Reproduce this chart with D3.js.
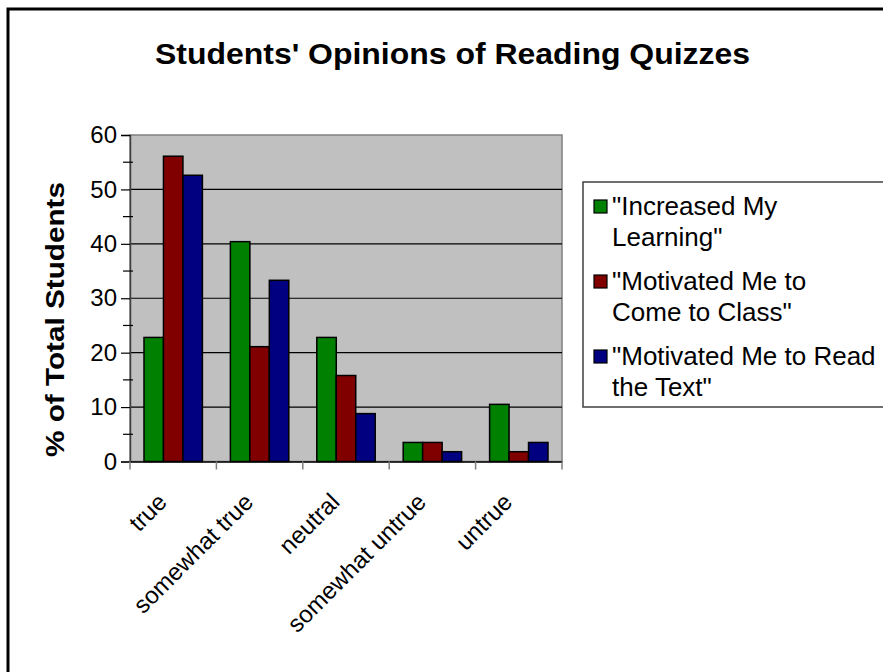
<!DOCTYPE html>
<html>
<head>
<meta charset="utf-8">
<script src="https://cdn.jsdelivr.net/npm/d3@7"></script>
<style>
  html, body { margin: 0; padding: 0; background: #fff; }
  svg { display: block; }
  text { font-family: Arial, "Liberation Sans", sans-serif; }
</style>
</head>
<body>
<svg id="chart" width="883" height="672"></svg>
<script>
const title = "Students' Opinions of Reading Quizzes";
const yTitle = "% of Total Students";
const categories = ["true", "somewhat true", "neutral", "somewhat untrue", "untrue"];
const seriesNames = ["\"Increased My Learning\"", "\"Motivated Me to Come to Class\"", "\"Motivated Me to Read the Text\""];
const legendLines = [["\"Increased My", "Learning\""], ["\"Motivated Me to", "Come to Class\""], ["\"Motivated Me to Read", "the Text\""]];
const increasedLearning = [22.8, 40.4, 22.8, 3.5, 10.5];
const cameToClass = [56.1, 21.1, 15.8, 3.5, 1.8];
const readText = [52.6, 33.3, 8.8, 1.8, 3.5];
const seriesValues = [increasedLearning, cameToClass, readText];
const seriesColors = ["#008000", "#800000", "#000080"];
const yTicks = [0, 10, 20, 30, 40, 50, 60];
const yMinorTicks = [5, 15, 25, 35, 45, 55];

const svg = d3.select("#chart");

// outer frame
svg.append("rect").attr("x", 8).attr("y", 9).attr("width", 900).attr("height", 700)
  .attr("fill", "#fff").attr("stroke", "#000").attr("stroke-width", 3);

const plot = { left: 130, right: 562, top: 135, bottom: 461.5 };

const x = d3.scaleBand().domain(categories).range([plot.left, plot.right])
  .paddingInner(0.324).paddingOuter(0.162);
const xFull = d3.scaleBand().domain(categories).range([plot.left, plot.right]);
const xSub = d3.scaleBand().domain(d3.range(seriesValues.length)).range([0, x.bandwidth()]);
const y = d3.scaleLinear().domain([0, 60]).range([plot.bottom, plot.top]);

// plot background
svg.append("rect").attr("x", plot.left).attr("y", plot.top)
  .attr("width", plot.right - plot.left).attr("height", plot.bottom - plot.top)
  .attr("fill", "#C0C0C0").attr("stroke", "#808080").attr("stroke-width", 1.5);

// gridlines
svg.append("g").selectAll("line").data(yTicks.filter(d => d > 0 && d < 60)).join("line")
  .attr("x1", plot.left).attr("x2", plot.right)
  .attr("y1", d => y(d)).attr("y2", d => y(d))
  .attr("stroke", "#000").attr("stroke-width", 1.2);

// bars
const groups = svg.append("g").selectAll("g").data(categories).join("g")
  .attr("transform", c => `translate(${x(c)},0)`);
groups.selectAll("rect").data((c, i) => seriesValues.map((s, k) => ({ k, v: s[i] }))).join("rect")
  .attr("x", d => xSub(d.k)).attr("width", xSub.bandwidth())
  .attr("y", d => y(d.v)).attr("height", d => y(0) - y(d.v))
  .attr("fill", d => seriesColors[d.k]).attr("stroke", "#000").attr("stroke-width", 1.5);

// y axis
const yAxis = d3.axisLeft(y).tickValues(yTicks).tickSize(9).tickPadding(4).tickFormat(d3.format("d"));
const gy = svg.append("g").attr("transform", `translate(${plot.left},0)`).call(yAxis);
gy.select(".domain").attr("stroke", "#404040").attr("stroke-width", 1.5);
gy.selectAll(".tick line").attr("stroke", "#000").attr("stroke-width", 1.2);
gy.selectAll(".tick text").attr("font-size", 24).attr("fill", "#000")
  .style("font-family", "Arial, 'Liberation Sans', sans-serif");
svg.append("g").selectAll("line").data(yMinorTicks).join("line")
  .attr("x1", plot.left - 7).attr("x2", plot.left + 3)
  .attr("y1", d => y(d)).attr("y2", d => y(d))
  .attr("stroke", "#000").attr("stroke-width", 1.2);

// x axis
const xAxis = d3.axisBottom(xFull).tickSize(0).tickFormat("");
const gx = svg.append("g").attr("transform", `translate(0,${plot.bottom})`).call(xAxis);
gx.select(".domain").attr("stroke", "#000").attr("stroke-width", 1.5);
const boundaries = categories.map(c => xFull(c)).concat([plot.right]);
gx.selectAll(".bt").data(boundaries).join("line").attr("class", "bt")
  .attr("x1", d => d).attr("x2", d => d).attr("y1", 0).attr("y2", 8)
  .attr("stroke", "#808080").attr("stroke-width", 1.5);
svg.append("g").selectAll("text").data(categories).join("text")
  .attr("transform", c => `translate(${xFull(c) + xFull.bandwidth() / 2 - 5},${plot.bottom + 42}) rotate(-45)`)
  .attr("text-anchor", "end").attr("font-size", 24).attr("fill", "#000")
  .text(c => c);

// title
svg.append("text").attr("x", 452.5).attr("y", 64).attr("text-anchor", "middle")
  .attr("font-size", 29).attr("font-weight", "bold")
  .attr("textLength", 595).attr("lengthAdjust", "spacingAndGlyphs")
  .text(title);

// y title
svg.append("text").attr("transform", `translate(64,${(182 + 457) / 2}) rotate(-90)`)
  .attr("text-anchor", "middle").attr("font-size", 26).attr("font-weight", "bold")
  .attr("textLength", 275).attr("lengthAdjust", "spacingAndGlyphs")
  .text(yTitle);

// legend
const legend = svg.append("g");
legend.append("rect").attr("x", 583).attr("y", 182).attr("width", 330).attr("height", 225)
  .attr("fill", "#fff").attr("stroke", "#404040").attr("stroke-width", 1.5);
const items = legend.selectAll("g.item").data(seriesNames).join("g").attr("class", "item")
  .attr("transform", (d, i) => `translate(0,${206 + i * 75})`);
items.append("rect").attr("x", 594).attr("y", -6).attr("width", 13).attr("height", 13)
  .attr("fill", (d, i) => seriesColors[i]).attr("stroke", "#000").attr("stroke-width", 1.2);
items.append("text").attr("x", 612).attr("y", 0).attr("font-size", 26).attr("fill", "#000")
  .attr("dominant-baseline", "central")
  .selectAll("tspan").data((d, i) => legendLines[i]).join("tspan")
  .attr("x", 612).attr("dy", (d, j) => j === 0 ? 0 : 31).text(d => d);
</script>
</body>
</html>
